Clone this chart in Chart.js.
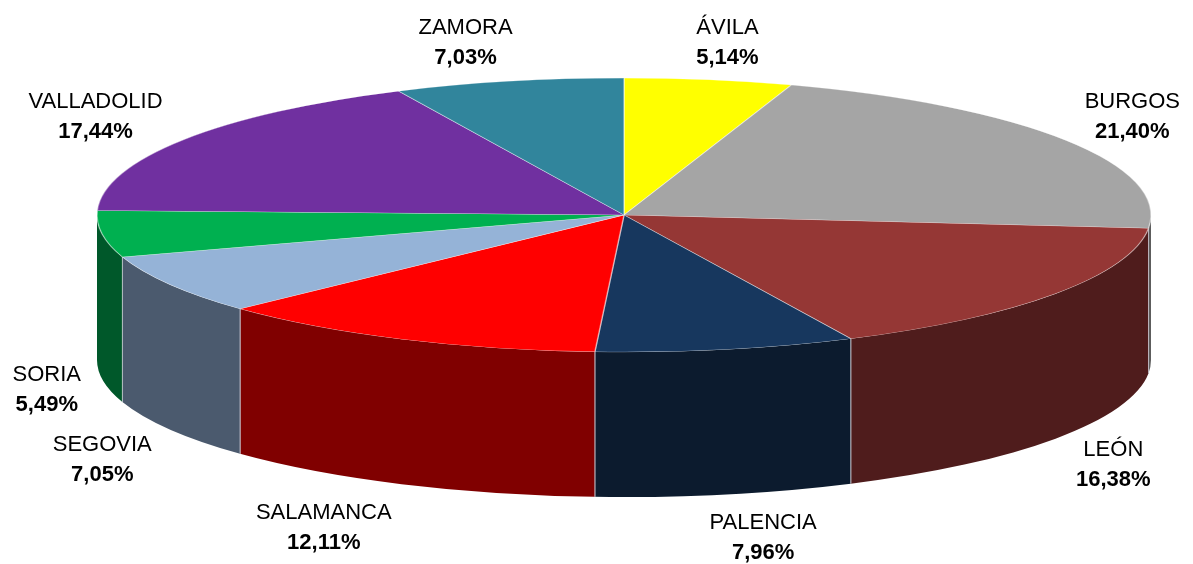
<!DOCTYPE html>
<html>
<head>
<meta charset="utf-8">
<script src="https://cdn.jsdelivr.net/npm/chart.js@4"></script>
<style>
  body { margin: 0; background: #fff; }
  #wrap { width: 1193px; height: 564px; position: relative; }
</style>
</head>
<body>
<div id="wrap"><canvas id="myChart"></canvas></div>
<script>
const provincias = ['ÁVILA', 'BURGOS', 'LEÓN', 'PALENCIA', 'SALAMANCA', 'SEGOVIA', 'SORIA', 'VALLADOLID', 'ZAMORA'];
const porcentajes = [5.14, 21.40, 16.38, 7.96, 12.11, 7.05, 5.49, 17.44, 7.03];

const topColors = ['#FFFF00', '#A5A5A5', '#953735', '#17375E', '#FF0000', '#95B3D7', '#00B050', '#7030A0', '#31859C'];
const sideColors = ['#808000', '#5C5C5C', '#4F1C1C', '#0C1B2E', '#800000', '#4B5A6E', '#00582A', '#38184F', '#18424E'];

// ellipse of the top face and wall height
const EX = 624, EY = 215, RX = 527, RY = 137, DEPTH = 145;
// label ring and small per-label nudges
const LX = 600, LY = 180;
const labelNudge = [[7, 4], [5, -2], [-2, 0], [23, -1], [-47, 3], [-5, 7], [17, 3], [-27, -1], [-27, 2]];

function fmt(v) {
    return v.toFixed(2).replace('.', ',') + '%';
}

const pie3d = {
    id: 'pie3d',
    beforeDatasetsDraw(chart) {
        const ctx = chart.ctx;
        const meta = chart.getDatasetMeta(0);
        const first = meta.data[0];

        // front walls
        meta.data.forEach((el, i) => {
            const a = Math.max(el.startAngle, 0);
            const b = Math.min(el.endAngle, Math.PI);
            if (b <= a) return;
            ctx.save();
            ctx.beginPath();
            ctx.ellipse(EX, EY, RX, RY, 0, a, b, false);
            ctx.lineTo(EX + RX * Math.cos(b), EY + DEPTH + RY * Math.sin(b));
            ctx.ellipse(EX, EY + DEPTH, RX, RY, 0, b, a, true);
            ctx.closePath();
            ctx.fillStyle = sideColors[i];
            ctx.fill();
            ctx.strokeStyle = 'rgba(200,200,210,0.8)';
            ctx.lineWidth = 1;
            [el.startAngle, el.endAngle].forEach(t => {
                if (t > 0.01 && t < Math.PI - 0.01) {
                    ctx.beginPath();
                    ctx.moveTo(EX + RX * Math.cos(t), EY + RY * Math.sin(t));
                    ctx.lineTo(EX + RX * Math.cos(t), EY + DEPTH + RY * Math.sin(t));
                    ctx.stroke();
                }
            });
            ctx.restore();
        });

        // squash the chart's circle onto the top ellipse
        const r = first.outerRadius;
        ctx.save();
        ctx.translate(EX, EY);
        ctx.scale(RX / r, RY / r);
        ctx.translate(-first.x, -first.y);
    },
    afterDatasetsDraw(chart) {
        const ctx = chart.ctx;
        ctx.restore();

        const meta = chart.getDatasetMeta(0);
        ctx.save();
        ctx.fillStyle = '#000';
        ctx.textAlign = 'center';
        ctx.textBaseline = 'alphabetic';
        meta.data.forEach((el, i) => {
            const m = (el.startAngle + el.endAngle) / 2;
            let x = EX + LX * Math.cos(m);
            let y = EY + LY * Math.sin(m) + (Math.sin(m) > 0 ? DEPTH : 0);
            x += labelNudge[i][0];
            y += labelNudge[i][1];
            ctx.font = '22px "Liberation Sans", Arial, sans-serif';
            ctx.fillText(provincias[i], x, y - 7);
            ctx.font = 'bold 22px "Liberation Sans", Arial, sans-serif';
            ctx.fillText(fmt(porcentajes[i]), x, y + 23);
        });
        ctx.restore();
    }
};

const ctx = document.getElementById('myChart').getContext('2d');
const myChart = new Chart(ctx, {
    type: 'pie',
    data: {
        labels: provincias,
        datasets: [{
            data: porcentajes,
            backgroundColor: topColors,
            borderColor: 'rgba(255,255,255,0.45)',
            borderWidth: 0.8,
            clip: false
        }]
    },
    options: {
        responsive: true,
        maintainAspectRatio: false,
        animation: false,
        events: [],
        layout: { padding: 0 },
        plugins: {
            legend: { display: false },
            tooltip: { enabled: false }
        }
    },
    plugins: [pie3d]
});
</script>
</body>
</html>
